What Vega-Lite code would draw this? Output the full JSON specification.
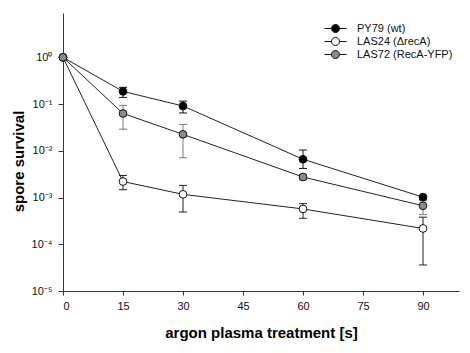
{
  "$schema": "https://vega.github.io/schema/vega-lite/v6.json",
  "autosize": "none",
  "width": 396,
  "height": 278,
  "padding": {"left": 63, "top": 13, "right": 11, "bottom": 62},
  "background": "white",
  "config": {
    "view": {"stroke": null},
    "font": "Liberation Sans",
    "axis": {"grid": false, "domainColor": "#333", "tickColor": "#333", "labelColor": "#111", "labelFontSize": 11, "labelFont": "Liberation Sans", "titleFont": "Liberation Sans", "titleFontSize": 15, "titleFontWeight": "bold", "titleColor": "#000", "tickSize": 4, "domainWidth": 1, "tickWidth": 1}
  },
  "data": {
    "values": [
      {"strain": "PY79 (wt)", "t": 0, "v": 1},
      {"strain": "PY79 (wt)", "t": 15, "v": 0.187, "lo": 0.139, "hi": 0.228},
      {"strain": "PY79 (wt)", "t": 30, "v": 0.091, "lo": 0.0645, "hi": 0.116},
      {"strain": "PY79 (wt)", "t": 60, "v": 0.0066, "lo": 0.0042, "hi": 0.0104},
      {"strain": "PY79 (wt)", "t": 90, "v": 0.00102, "lo": 0.00092, "hi": 0.00112},
      {"strain": "LAS24 (ΔrecA)", "t": 0, "v": 1},
      {"strain": "LAS24 (ΔrecA)", "t": 15, "v": 0.0022, "lo": 0.00147, "hi": 0.00297},
      {"strain": "LAS24 (ΔrecA)", "t": 30, "v": 0.00117, "lo": 0.00049, "hi": 0.00182},
      {"strain": "LAS24 (ΔrecA)", "t": 60, "v": 0.00057, "lo": 0.00036, "hi": 0.00074},
      {"strain": "LAS24 (ΔrecA)", "t": 90, "v": 0.000218, "lo": 0.000036, "hi": 0.00038},
      {"strain": "LAS72 (RecA-YFP)", "t": 0, "v": 1},
      {"strain": "LAS72 (RecA-YFP)", "t": 15, "v": 0.063, "lo": 0.029, "hi": 0.094},
      {"strain": "LAS72 (RecA-YFP)", "t": 30, "v": 0.0225, "lo": 0.0071, "hi": 0.0367},
      {"strain": "LAS72 (RecA-YFP)", "t": 60, "v": 0.00275, "lo": 0.0024, "hi": 0.0031},
      {"strain": "LAS72 (RecA-YFP)", "t": 90, "v": 0.000667, "lo": 0.00043, "hi": 0.00085}
    ]
  },
  "encoding": {
    "x": {
      "field": "t", "type": "quantitative",
      "scale": {"domain": [0, 99], "nice": false, "zero": false},
      "axis": {"values": [0, 15, 30, 45, 60, 75, 90], "title": "argon plasma treatment [s]", "labelPadding": 5, "titlePadding": 14}
    }
  },
  "layer": [
    {
      "mark": {"type": "line", "color": "#222", "strokeWidth": 1},
      "encoding": {
        "y": {
          "field": "v", "type": "quantitative",
          "scale": {"type": "log", "domain": [0.00001, 8.9], "nice": false},
          "axis": {
            "values": [0.00001, 0.0001, 0.001, 0.01, 0.1, 1],
            "labelExpr": "'10' + ['⁻⁵','⁻⁴','⁻³','⁻²','⁻¹','⁰'][round(log(datum.value)/LN10)+5]",
            "title": "spore survival",
            "tickSize": 5,
            "labelPadding": 6,
            "titleX": -45,
            "titleY": 148,
            "titleBaseline": "middle",
            "titleAlign": "center"
          }
        },
        "detail": {"field": "strain"}
      }
    },
    {
      "mark": {"type": "rule", "strokeWidth": 1},
      "encoding": {
        "y": {"field": "lo", "type": "quantitative"},
        "y2": {"field": "hi"},
        "stroke": {"field": "strain", "type": "nominal", "scale": {"domain": ["LAS72 (RecA-YFP)", "PY79 (wt)", "LAS24 (ΔrecA)"], "range": ["#7a7a7a", "#111", "#222"]}, "legend": null}
      }
    },
    {
      "mark": {"type": "point", "shape": "stroke", "size": 64, "strokeWidth": 1, "opacity": 1},
      "encoding": {
        "y": {"field": "lo", "type": "quantitative"},
        "stroke": {"field": "strain", "type": "nominal", "legend": null}
      }
    },
    {
      "mark": {"type": "point", "shape": "stroke", "size": 64, "strokeWidth": 1, "opacity": 1},
      "encoding": {
        "y": {"field": "hi", "type": "quantitative"},
        "stroke": {"field": "strain", "type": "nominal", "legend": null}
      }
    },
    {
      "mark": {"type": "point", "shape": "circle", "size": 60, "filled": true, "stroke": "#111", "strokeWidth": 1, "opacity": 1},
      "encoding": {
        "y": {"field": "v", "type": "quantitative"},
        "color": {
          "field": "strain", "type": "nominal",
          "scale": {"domain": ["PY79 (wt)", "LAS24 (ΔrecA)", "LAS72 (RecA-YFP)"], "range": ["#000000", "#ffffff", "#8a8a8a"]},
          "legend": {
            "title": null,
            "orient": "none",
            "legendX": 267,
            "legendY": 10,
            "symbolType": "M-2.75,0L-1,0M1,0L2.75,0M1,0A1,1,0,1,1,-1,0A1,1,0,1,1,1,0Z",
            "symbolSize": 64,
            "symbolStrokeColor": "#111",
            "symbolStrokeWidth": 1,
            "symbolOpacity": 1,
            "labelOffset": 16,
            "labelFontSize": 11,
            "labelColor": "#111",
            "labelFont": "Liberation Sans",
            "rowPadding": 0
          }
        }
      }
    }
  ]
}
